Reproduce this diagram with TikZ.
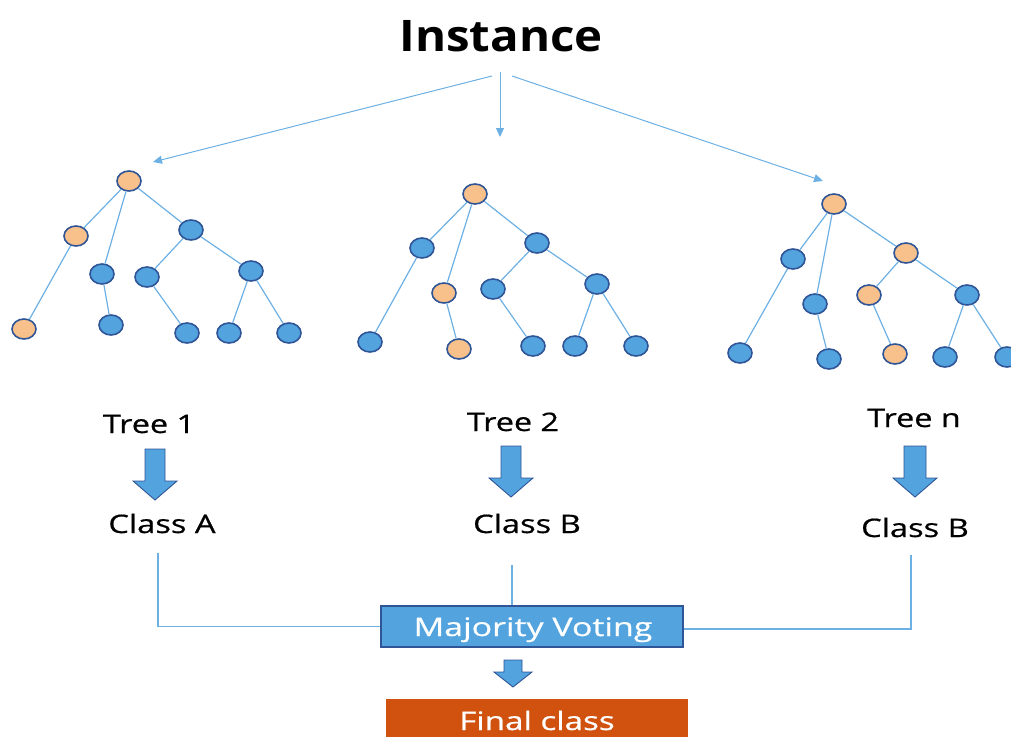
\documentclass[tikz,border=0pt]{standalone}
\usepackage{fontspec}
\usepackage{graphicx}
\setmainfont{Open Sans}
\newfontfamily\labelfont[FakeBold=0.6]{Open Sans}
\usetikzlibrary{arrows.meta,shapes.geometric}

\definecolor{nodeblue}{RGB}{82,163,222}
\definecolor{nodeorange}{RGB}{248,192,138}
\definecolor{rimblue}{RGB}{47,85,151}
\definecolor{edgeblue}{RGB}{108,176,228}
\definecolor{finalred}{RGB}{208,82,14}

% horizontally widened text
\newcommand\widetext[2]{\scalebox{#1}[1]{#2}}
% block arrow pointing down: centre x, top y, shaft half width, head y offset, head half width, tip offset
\newcommand\blockdown[6]{%
  \filldraw[fill=nodeblue, draw=rimblue, line width=0.9pt, line join=miter]
    (#1-#3,#2) -- (#1+#3,#2) -- (#1+#3,#2+#4) -- (#1+#5,#2+#4) -- (#1,#2+#6)
    -- (#1-#5,#2+#4) -- (#1-#3,#2+#4) -- cycle;}

\begin{document}
\begin{tikzpicture}[x=1pt,y=-1pt,
  tn/.style={ellipse, draw=rimblue, line width=1.6pt, minimum width=24pt,
             minimum height=20pt, inner sep=0pt},
  bn/.style={tn, fill=nodeblue},
  on/.style={tn, fill=nodeorange},
  edge/.style={draw=edgeblue, line width=1.2pt},
  feed/.style={draw=edgeblue, line width=1pt,
               -{Triangle[length=9pt,width=8pt]}},
  link/.style={draw=edgeblue, line width=1.3pt},
  lbl/.style={anchor=base, inner sep=0pt, font=\labelfont\fontsize{25.5}{30}\selectfont},
  votebox/.style={rectangle, fill=nodeblue, draw=rimblue, line width=2pt,
                  minimum width=302pt, minimum height=41pt, inner sep=0pt},
  finalbox/.style={rectangle, fill=finalred, minimum width=302pt,
                   minimum height=50pt, inner sep=0pt}
]
\useasboundingbox (0,0) rectangle (1011,736);
\clip (0,0) rectangle (1011,736);

% title and the three feeds into the trees
\node[anchor=base, inner sep=0pt, font=\fontsize{43.5}{50}\selectfont\bfseries]
  (title) at (501,51) {\widetext{1.09}{Instance}};
\coordinate (fl) at (492,76);
\coordinate (fm) at (500,72);
\coordinate (fr) at (512,76);
\coordinate (tl) at (153,162);
\coordinate (tm) at (500,137);
\coordinate (tr) at (823,181);
\draw[feed] (fl) -- (tl);
\draw[feed] (fm) -- (tm);
\draw[feed] (fr) -- (tr);

% ---------- tree 1 ----------
\node[on] (a0) at (129,181) {};
\node[on] (a1) at (76,236) {};
\node[bn] (a2) at (102,274) {};
\node[bn] (a3) at (191,230) {};
\node[on] (a4) at (24,329) {};
\node[bn] (a5) at (111,325) {};
\node[bn] (a6) at (147,277) {};
\node[bn] (a7) at (251,271) {};
\node[bn] (a8) at (187,333) {};
\node[bn] (a9) at (229,333) {};
\node[bn] (a10) at (289,333) {};
\draw[edge] (a0) -- (a1); \draw[edge] (a0) -- (a2); \draw[edge] (a0) -- (a3);
\draw[edge] (a1) -- (a4); \draw[edge] (a2) -- (a5);
\draw[edge] (a3) -- (a6); \draw[edge] (a3) -- (a7);
\draw[edge] (a6) -- (a8); \draw[edge] (a7) -- (a9); \draw[edge] (a7) -- (a10);

% ---------- tree 2 ----------
\node[on] (b0) at (475,194) {};
\node[bn] (b1) at (422,248) {};
\node[on] (b2) at (444,293) {};
\node[bn] (b3) at (537,243) {};
\node[bn] (b4) at (370,342) {};
\node[on] (b5) at (459,349) {};
\node[bn] (b6) at (493,289) {};
\node[bn] (b7) at (597,284) {};
\node[bn] (b8) at (533,346) {};
\node[bn] (b9) at (575,346) {};
\node[bn] (b10) at (636,346) {};
\draw[edge] (b0) -- (b1); \draw[edge] (b0) -- (b2); \draw[edge] (b0) -- (b3);
\draw[edge] (b1) -- (b4); \draw[edge] (b2) -- (b5);
\draw[edge] (b3) -- (b6); \draw[edge] (b3) -- (b7);
\draw[edge] (b6) -- (b8); \draw[edge] (b7) -- (b9); \draw[edge] (b7) -- (b10);

% ---------- tree n ----------
\node[on] (c0) at (834,204) {};
\node[bn] (c1) at (793,259) {};
\node[bn] (c2) at (815,304) {};
\node[on] (c3) at (906,253) {};
\node[bn] (c4) at (740,353) {};
\node[bn] (c5) at (829,359) {};
\node[on] (c6) at (869,295) {};
\node[bn] (c7) at (967,295) {};
\node[on] (c8) at (895,354) {};
\node[bn] (c9) at (945,357) {};
\node[bn] (c10) at (1007,357) {};
\draw[edge] (c0) -- (c1); \draw[edge] (c0) -- (c2); \draw[edge] (c0) -- (c3);
\draw[edge] (c1) -- (c4); \draw[edge] (c2) -- (c5);
\draw[edge] (c3) -- (c6); \draw[edge] (c3) -- (c7);
\draw[edge] (c6) -- (c8); \draw[edge] (c7) -- (c9); \draw[edge] (c7) -- (c10);

% ---------- tree labels, arrows and predicted classes ----------
\node[lbl] (t1) at (149,433) {\widetext{1.27}{Tree 1}};
\node[lbl] (t2) at (513,431) {\widetext{1.27}{Tree 2}};
\node[lbl] (tn) at (914,427) {\widetext{1.27}{Tree n}};
\blockdown{155}{449}{10}{32}{22}{51}
\blockdown{511}{446}{10}{32}{22}{51}
\blockdown{915}{446}{11}{32}{22}{51}
\node[lbl] (k1) at (162,533) {\widetext{1.28}{Class A}};
\node[lbl] (k2) at (527,533) {\widetext{1.28}{Class B}};
\node[lbl] (kn) at (915,537) {\widetext{1.28}{Class B}};

% ---------- voting ----------
\node[votebox] (vote) at (532,626.5) {};
\node[lbl, text=white] (votetext) at (533,636) {\widetext{1.33}{Majority Voting}};
\coordinate (k1foot) at (158,553);
\coordinate (k2foot) at (512,565);
\coordinate (knfoot) at (911,555);
\draw[link] (k1foot) |- (vote.west);
\draw[link] (k2foot) -- (vote.north -| k2foot);
\draw[link] (knfoot) |- ([yshift=-2.5pt]vote.east);

\blockdown{513}{660}{9}{12}{19}{27}
\node[finalbox] (final) at (537,724) {};
\node[lbl, text=white] (finaltext) at (537,730) {\widetext{1.3}{Final class}};
\end{tikzpicture}
\end{document}
